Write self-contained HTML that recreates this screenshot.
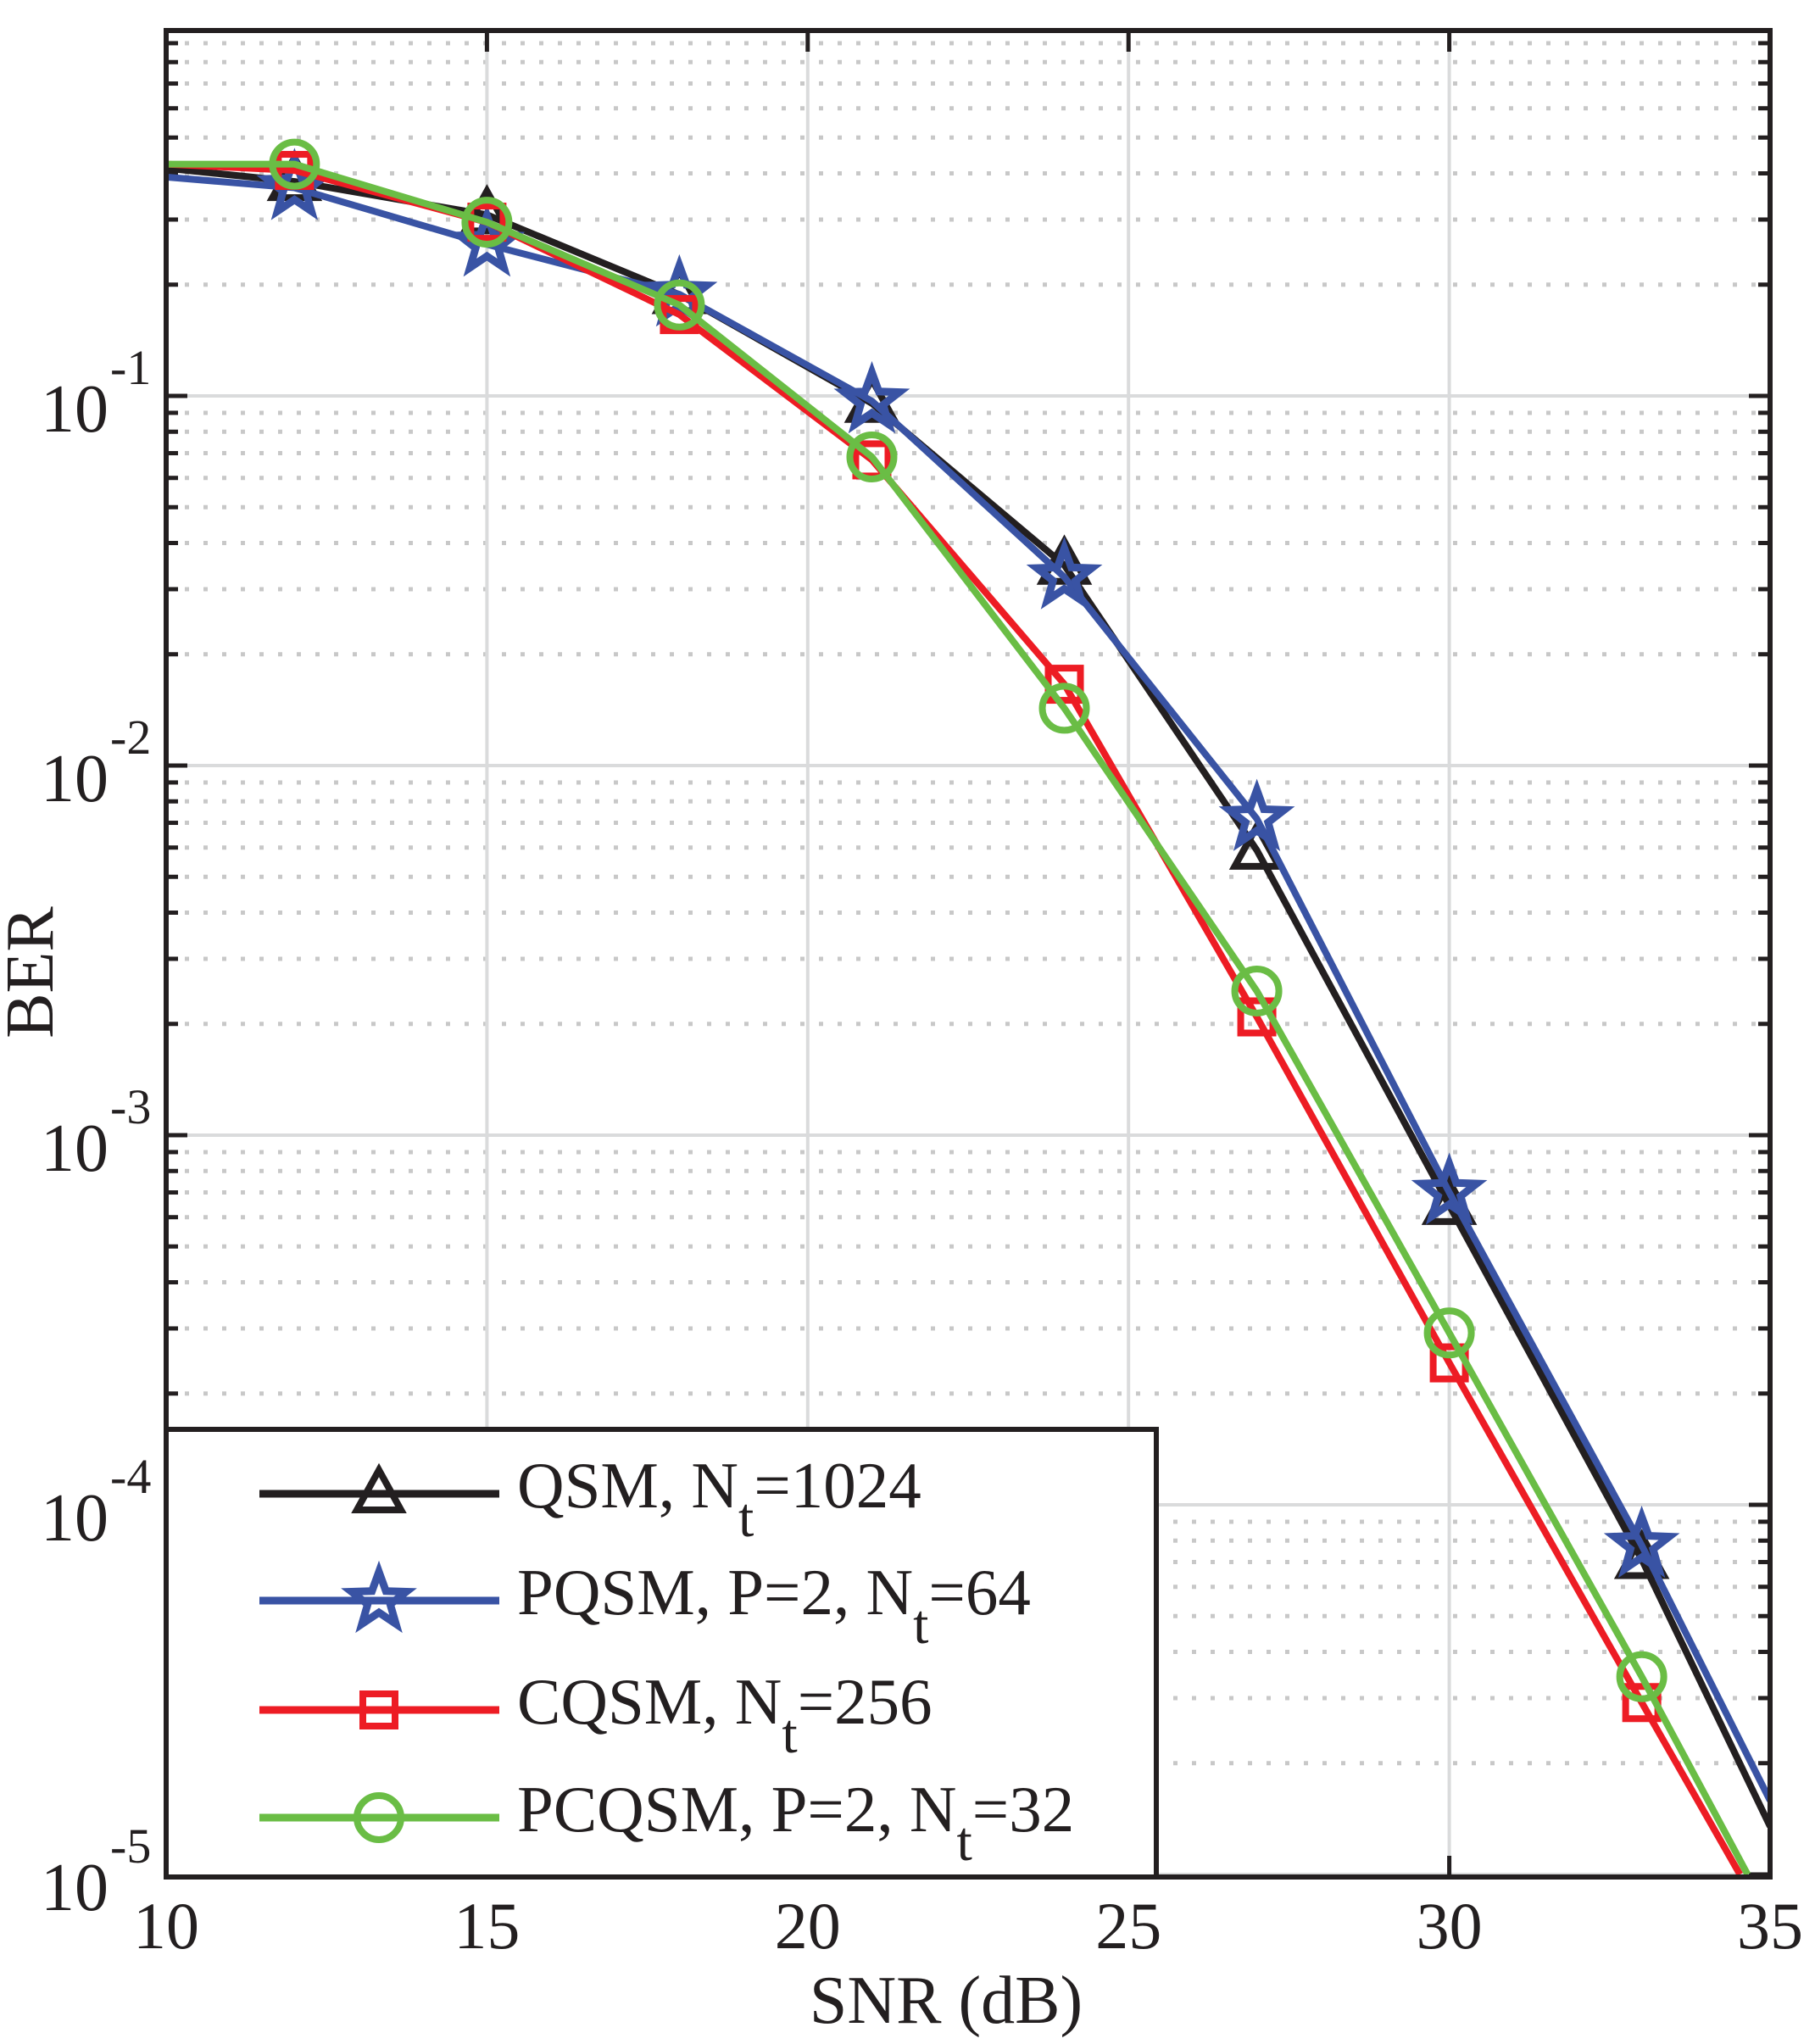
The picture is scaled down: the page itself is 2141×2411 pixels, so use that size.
<!DOCTYPE html>
<html><head><meta charset="utf-8"><style>
html,body{margin:0;padding:0;background:#fff;}
svg{display:block;}
text{font-family:"Liberation Serif","Times New Roman",serif;}
</style></head><body>
<svg id="s" width="2141" height="2411" viewBox="0 0 2141 2411" xmlns="http://www.w3.org/2000/svg" font-family="Liberation Serif, serif"></svg>
<script>
const L=196,R=2088,T=36,B=2214;
const X=d=>L+(d-10)*(R-L)/25;
const Y=l=>467-(l+1)*436;
let h='';
h+='<defs><clipPath id="c"><rect x="'+L+'" y="'+T+'" width="'+(R-L)+'" height="'+(B-T)+'"/></clipPath></defs>';
for(let e=-5;e<=-1;e++){for(let m=2;m<=9;m++){const y=Y(e+Math.log10(m));if(y<T||y>B)continue;
h+='<line x1="'+L+'" x2="'+R+'" y1="'+y+'" y2="'+y+'" stroke="#c8c8c8" stroke-width="5" stroke-dasharray="5 17"/>';
h+='<line x1="'+L+'" x2="'+(L+14)+'" y1="'+y+'" y2="'+y+'" stroke="#231f20" stroke-width="5"/>';
h+='<line x1="'+(R-14)+'" x2="'+R+'" y1="'+y+'" y2="'+y+'" stroke="#231f20" stroke-width="5"/>';}}
for(let e=-5;e<=-1;e++){const y=Y(e);
h+='<line x1="'+L+'" x2="'+R+'" y1="'+y+'" y2="'+y+'" stroke="#dadbdc" stroke-width="4"/>';
h+='<line x1="'+L+'" x2="'+(L+25)+'" y1="'+y+'" y2="'+y+'" stroke="#231f20" stroke-width="5"/>';
h+='<line x1="'+(R-25)+'" x2="'+R+'" y1="'+y+'" y2="'+y+'" stroke="#231f20" stroke-width="5"/>';
h+='<text x="128" y="'+(y+42)+'" font-size="80" text-anchor="end" fill="#231f20">10</text>';
h+='<text x="130" y="'+(y-14)+'" font-size="58" fill="#231f20">-'+(-e)+'</text>';}
for(let d=15;d<=30;d+=5){const x=X(d);
h+='<line x1="'+x+'" x2="'+x+'" y1="'+T+'" y2="'+B+'" stroke="#dadbdc" stroke-width="4"/>';
h+='<line x1="'+x+'" x2="'+x+'" y1="'+T+'" y2="'+(T+25)+'" stroke="#231f20" stroke-width="5"/>';
h+='<line x1="'+x+'" x2="'+x+'" y1="'+(B-25)+'" y2="'+B+'" stroke="#231f20" stroke-width="5"/>';}
for(let d=10;d<=35;d+=5){h+='<text x="'+X(d)+'" y="2298" font-size="78" text-anchor="middle" fill="#231f20">'+d+'</text>';}
const xs=[10,12,15,18,21,24,27,30,33];
const S=[
 {c:'#231f20',m:'tri',d:[-0.384,-0.42,-0.51,-0.726,-1.02,-1.458,-2.229,-3.19,-4.148],end:[35,-4.87]},
 {c:'#3953a4',m:'star',d:[-0.408,-0.437,-0.59,-0.725,-1.014,-1.49,-2.144,-3.155,-4.11],end:[35,-4.80]},
 {c:'#ed1c24',m:'sq',d:[-0.373,-0.39,-0.53,-0.78,-1.173,-1.78,-2.68,-3.616,-4.535],end:[34.53,-5]},
 {c:'#6abd45',m:'circ',d:[-0.373,-0.373,-0.53,-0.754,-1.165,-1.845,-2.61,-3.535,-4.465],end:[34.65,-5]}
];
function mk(t,x,y,c){
 if(t=='tri')return '<polygon points="'+x+','+(y-28)+' '+(x-26)+','+(y+19)+' '+(x+26)+','+(y+19)+'" fill="none" stroke="'+c+'" stroke-width="8"/>';
 if(t=='sq')return '<rect x="'+(x-19)+'" y="'+(y-19)+'" width="38" height="38" fill="none" stroke="'+c+'" stroke-width="8"/>';
 if(t=='circ')return '<circle cx="'+x+'" cy="'+y+'" r="26" fill="none" stroke="'+c+'" stroke-width="8"/>';
 let p=[];for(let i=0;i<10;i++){const a=-Math.PI/2+i*Math.PI/5,r=i%2?14:34;p.push((x+r*Math.cos(a)).toFixed(1)+','+(y+r*Math.sin(a)).toFixed(1));}
 return '<polygon points="'+p.join(' ')+'" fill="none" stroke="'+c+'" stroke-width="9" stroke-linejoin="miter"/>';
}
h+='<g clip-path="url(#c)">';
for(const s of S){let p=xs.map((x,i)=>X(x)+','+Y(s.d[i]));p.push(X(s.end[0])+','+Y(s.end[1]));
h+='<polyline points="'+p.join(' ')+'" fill="none" stroke="'+s.c+'" stroke-width="8" stroke-linejoin="round"/>';
xs.forEach((x,i)=>{if(i>0)h+=mk(s.m,X(x),Y(s.d[i]),s.c);});}
h+='</g>';
h+='<rect x="'+L+'" y="'+T+'" width="'+(R-L)+'" height="'+(B-T)+'" fill="none" stroke="#231f20" stroke-width="6"/>';
h+='<rect x="'+L+'" y="1686" width="1168" height="'+(B-1686)+'" fill="#fff" stroke="#231f20" stroke-width="6"/>';
const lab=[['QSM, N','=1024'],['PQSM, P=2, N','=64'],['CQSM, N','=256'],['PCQSM, P=2, N','=32']];
const ly=[1762,1888,2017,2144];
S.forEach((s,i)=>{const y=ly[i];
h+='<line x1="306" x2="589" y1="'+y+'" y2="'+y+'" stroke="'+s.c+'" stroke-width="9"/>'+mk(s.m,447,y,s.c);
h+='<text x="610" y="'+(y+16)+'" font-size="77" fill="#231f20">'+lab[i][0]+'<tspan dy="34" font-size="66">t</tspan><tspan dy="-34">'+lab[i][1]+'</tspan></text>';});
h+='<text x="1116" y="2386" font-size="80" text-anchor="middle" fill="#231f20">SNR (dB)</text>';
h+='<text transform="translate(62,1147) rotate(-90)" font-size="80" text-anchor="middle" fill="#231f20">BER</text>';
document.getElementById('s').innerHTML=h;
</script>
</body></html>
